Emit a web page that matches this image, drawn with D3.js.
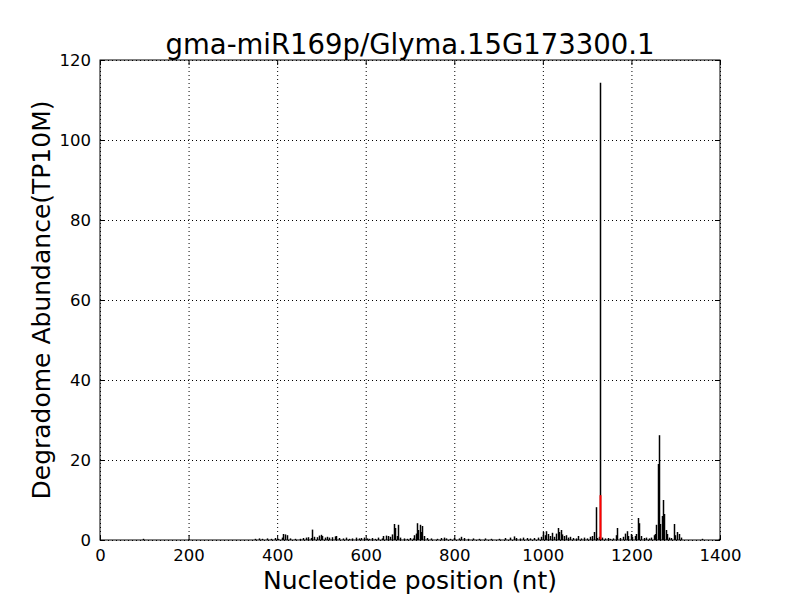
<!DOCTYPE html>
<html><head><meta charset="utf-8">
<script src="https://cdn.jsdelivr.net/npm/d3@7"></script>
<style>body{margin:0;background:#fff}svg{display:block}text{font-family:"DejaVu Sans",sans-serif}</style>
</head><body><svg id="c" width="800" height="600"></svg>
<script>
const titleText = "gma-miR169p/Glyma.15G173300.1";
const xLabel = "Nucleotide position (nt)";
const yLabel = "Degradome Abundance(TP10M)";
const xTicks = [0,200,400,600,800,1000,1200,1400];
const yTicks = [0,20,40,60,80,100,120];
const positions = [96,350,358,366,378,385,395,402,410,414,418,422,430,440,452,458,465,470,476,479,484,490,495,498,502,507,512,518,524,530,534,540,548,556,562,570,578,584,590,596,602,608,614,620,628,636,640,645,650,655,660,663,666,670,673,678,686,694,700,706,710,713,716,719,722,725,728,732,738,748,760,770,776,782,790,800,810,816,822,830,842,856,870,884,900,915,925,934,940,948,956,964,972,980,990,996,1001,1004,1008,1012,1016,1020,1025,1030,1034,1037,1040,1044,1048,1052,1056,1062,1068,1074,1080,1086,1092,1100,1106,1112,1116,1119,1123,1126,1129,1134,1140,1146,1152,1158,1165,1168,1174,1180,1186,1189,1193,1198,1202,1207,1211,1215,1218,1222,1228,1234,1240,1245,1250,1253,1256,1259,1262,1265,1268,1271,1274,1277,1280,1284,1290,1296,1299,1304,1308,1312,1360,1398];
const abundance = [0.3,0.3,0.4,0.3,0.4,0.3,0.5,0.3,0.6,1.5,1.4,1.2,0.4,0.3,0.3,0.5,0.6,0.7,0.5,2.6,0.8,0.7,1.1,1.3,1.0,0.6,0.8,0.6,0.7,0.9,1.0,0.5,0.4,0.6,0.3,0.4,0.6,0.4,0.5,0.6,0.4,0.3,0.5,0.3,0.6,0.4,1.0,1.1,1.0,0.8,1.4,4.0,3.0,1.0,3.8,0.6,0.4,0.3,0.5,0.4,1.2,1.6,4.2,2.5,3.8,2.0,3.5,1.0,0.5,0.4,0.3,0.5,0.6,0.4,0.3,0.5,0.4,0.8,0.5,0.3,0.4,0.3,0.4,0.3,0.3,0.5,0.6,0.9,0.5,0.4,0.6,0.5,0.4,0.5,0.6,0.8,2.0,1.2,2.2,1.5,1.0,1.8,0.8,1.6,3.0,2.0,2.5,1.4,1.0,1.2,0.6,0.8,0.5,0.4,1.0,0.4,0.6,0.4,0.8,1.0,2.0,8.2,0.5,0.8,114.3,0.6,0.4,0.5,0.3,0.4,1.2,3.0,0.5,0.8,1.6,2.2,1.0,1.5,0.8,1.0,1.5,5.5,4.2,1.0,0.5,0.6,0.4,0.6,1.2,1.5,3.8,19.0,26.2,4.0,6.0,10.0,6.5,2.5,1.5,0.6,0.5,4.0,1.2,2.0,1.5,0.6,0.3,0.3];
const targetPos = [1129];
const targetVal = [11.2];

const svg = d3.select("#c");
const m = {l:100, r:80, t:60, b:60};
const W = 800, H = 600;
const x = d3.scaleLinear().domain([0,1400]).range([m.l, W-m.r]);
const y = d3.scaleLinear().domain([0,120]).range([H-m.b, m.t]);

const g = svg.append("g");
g.selectAll("line.gx").data(xTicks).enter().append("line")
  .attr("x1",d=>x(d)+0.5).attr("x2",d=>x(d)+0.5).attr("y1",y(0)).attr("y2",y(120))
  .attr("stroke","#000").attr("stroke-width",1).attr("stroke-dasharray","1,3");
g.selectAll("line.gy").data(yTicks).enter().append("line")
  .attr("y1",d=>y(d)+0.5).attr("y2",d=>y(d)+0.5).attr("x1",x(0)).attr("x2",x(1400))
  .attr("stroke","#000").attr("stroke-width",1).attr("stroke-dasharray","1,3");

const data = positions.map((p,i)=>({p, v:abundance[i]}));
svg.append("g").selectAll("line").data(data).enter().append("line")
  .attr("x1",d=>Math.round(x(d.p))+0.5).attr("x2",d=>Math.round(x(d.p))+0.5)
  .attr("y1",y(0)).attr("y2",d=>y(d.v))
  .attr("stroke","#000").attr("stroke-width",1.5);
svg.append("g").selectAll("line").data(targetPos.map((p,i)=>({p,v:targetVal[i]}))).enter().append("line")
  .attr("x1",d=>Math.round(x(d.p))+0.5).attr("x2",d=>Math.round(x(d.p))+0.5)
  .attr("y1",y(0)).attr("y2",d=>y(d.v))
  .attr("stroke","#ff0000").attr("stroke-width",2);

const axB = d3.axisBottom(x).tickValues(xTicks).tickSize(-5).tickPadding(9).tickFormat(d3.format("d"));
const axT = d3.axisTop(x).tickValues(xTicks).tickSize(-5).tickFormat("");
const axL = d3.axisLeft(y).tickValues(yTicks).tickSize(-5).tickPadding(9).tickFormat(d3.format("d"));
const axR = d3.axisRight(y).tickValues(yTicks).tickSize(-5).tickFormat("");
function style(sel){ sel.select(".domain").remove(); sel.selectAll("line").attr("stroke","#000"); sel.selectAll("text").attr("font-size",16.5).attr("fill","#000").attr("font-family","DejaVu Sans"); }
svg.append("g").attr("transform",`translate(0,${y(0)})`).call(axB).call(style);
svg.append("g").attr("transform",`translate(0,${y(120)})`).call(axT).call(style);
svg.append("g").attr("transform",`translate(${x(0)},0)`).call(axL).call(style);
svg.append("g").attr("transform",`translate(${x(1400)},0)`).call(axR).call(style);

svg.append("rect").attr("x",x(0)).attr("y",y(120)).attr("width",x(1400)-x(0)).attr("height",y(0)-y(120))
  .attr("fill","none").attr("stroke","#000").attr("stroke-width",1);

svg.append("text").attr("x",(x(0)+x(1400))/2).attr("y",54).attr("text-anchor","middle")
  .attr("font-size",27.5).text(titleText);
svg.append("text").attr("x",(x(0)+x(1400))/2).attr("y",589).attr("text-anchor","middle")
  .attr("font-size",25).text(xLabel);
svg.append("text").attr("transform",`translate(50,${(y(0)+y(120))/2}) rotate(-90)`).attr("text-anchor","middle")
  .attr("font-size",25).text(yLabel);
</script></body></html>
